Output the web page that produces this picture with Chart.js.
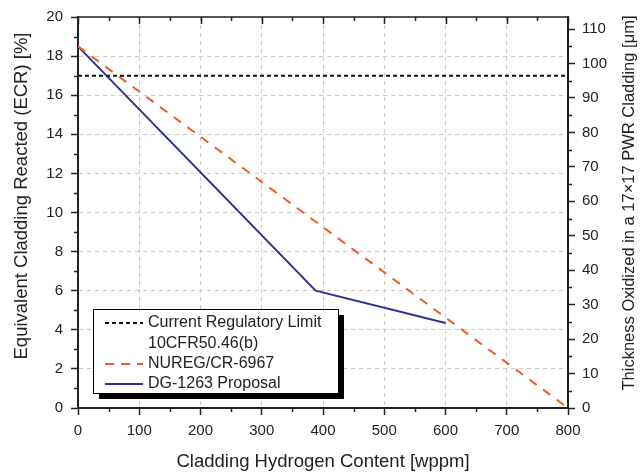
<!DOCTYPE html>
<html>
<head>
<meta charset="utf-8">
<script src="https://cdn.jsdelivr.net/npm/chart.js@4/dist/chart.umd.min.js"></script>
<style>
  html, body { margin: 0; padding: 0; background: #fff; }
  #wrap { width: 641px; height: 473px; }
</style>
</head>
<body>
<div id="wrap"><canvas id="chart" width="641" height="473"></canvas></div>
<script>
// data
const limitH = [0, 800];
const limitEcr = [17, 17];
const nuregH = [0, 800];
const nuregEcr = [18.5, 0];
const dgH = [0, 388, 600];
const dgEcr = [18.5, 6, 4.35];

const xTicks = [0, 100, 200, 300, 400, 500, 600, 700, 800];
const ecrTicks = [0, 2, 4, 6, 8, 10, 12, 14, 16, 18, 20];
const umTicks = [0, 10, 20, 30, 40, 50, 60, 70, 80, 90, 100, 110];
const umMax = 113.5; // right axis top, matches 20 % ECR

const seriesLabels = ['Current Regulatory Limit\n10CFR50.46(b)', 'NUREG/CR-6967', 'DG-1263 Proposal'];
const seriesColors = ['#111111', '#f15a24', '#2e3192'];
const leftTitle = 'Equivalent Cladding Reacted (ECR) [%]';
const rightTitle = 'Thickness Oxidized in a 17\u00d717 PWR Cladding [\u03bcm]';

const FONT = "'Liberation Sans', Arial, Helvetica, sans-serif";
const INK = '#222';

function pts(xs, ys) {
    return xs.map((x, i) => ({ x: x, y: ys[i] }));
}

function vText(ctx, text, x, y) {
    ctx.save();
    ctx.translate(x, y);
    ctx.rotate(-Math.PI / 2);
    ctx.fillText(text, 0, 0);
    ctx.restore();
}

// minor ticks, top frame, y titles and the boxed legend
const extras = {
    id: 'extras',
    afterDraw(chart) {
        const ctx = chart.ctx;
        const a = chart.chartArea;
        const sx = chart.scales.x, sy = chart.scales.y, sr = chart.scales.y1;
        ctx.save();
        ctx.strokeStyle = INK;
        ctx.lineWidth = 1.5;
        ctx.beginPath();
        ctx.moveTo(a.left, a.top);
        ctx.lineTo(a.right, a.top);
        for (let v = 0; v <= 800; v += 50) {
            const px = Math.round(sx.getPixelForValue(v)) + 0.5;
            const major = v % 100 === 0;
            if (!major) {
                ctx.moveTo(px, a.bottom);
                ctx.lineTo(px, a.bottom + 4);
            }
            ctx.moveTo(px, a.top);
            ctx.lineTo(px, a.top + (major ? 7 : 4));
        }
        for (let v = 1; v < 20; v += 2) {
            const py = Math.round(sy.getPixelForValue(v)) + 0.5;
            ctx.moveTo(a.left - 4, py);
            ctx.lineTo(a.left, py);
        }
        for (let v = 5; v < umMax; v += 10) {
            const py = Math.round(sr.getPixelForValue(v)) + 0.5;
            ctx.moveTo(a.right, py);
            ctx.lineTo(a.right + 4, py);
        }
        ctx.stroke();

        ctx.fillStyle = INK;
        ctx.textAlign = 'center';
        ctx.textBaseline = 'middle';
        ctx.font = '18.5px ' + FONT;
        vText(ctx, leftTitle, 22, 196);
        ctx.font = '16.5px ' + FONT;
        vText(ctx, rightTitle, 629, 203);
        ctx.restore();

        // legend box with drop shadow
        const bx = a.left + 15, by = a.bottom - 99, bw = 245, bh = 84;
        ctx.save();
        ctx.fillStyle = '#000';
        ctx.fillRect(bx + 6, by + 6, bw, bh);
        ctx.fillStyle = '#fff';
        ctx.fillRect(bx, by, bw, bh);
        ctx.strokeStyle = '#000';
        ctx.lineWidth = 1;
        ctx.strokeRect(bx + 0.5, by + 0.5, bw, bh);
        ctx.font = '16px ' + FONT;
        ctx.textAlign = 'left';
        ctx.textBaseline = 'middle';
        const rows = [14, 55, 75];
        const dashes = [[4, 3], [9, 7], []];
        chart.data.datasets.forEach((ds, i) => {
            const ry = by + rows[i];
            ctx.strokeStyle = ds.borderColor;
            ctx.lineWidth = 2;
            ctx.setLineDash(dashes[i]);
            ctx.beginPath();
            ctx.moveTo(bx + 12, ry);
            ctx.lineTo(bx + 50, ry);
            ctx.stroke();
            ctx.setLineDash([]);
            ctx.fillStyle = INK;
            ds.label.split('\n').forEach((line, j) => {
                ctx.fillText(line, bx + 55, ry + j * 21);
            });
        });
        ctx.restore();
    }
};

const gridStyle = {
    color: '#c8c8c8',
    lineWidth: 1,
    tickColor: INK,
    tickBorderDash: [],
    tickLength: 7,
    tickWidth: 1.5
};
const borderStyle = { color: INK, width: 2, dash: [4, 4] };
const tickFont = { family: FONT, size: 15 };

new Chart(document.getElementById('chart'), {
    type: 'line',
    data: {
        datasets: [
            {
                label: seriesLabels[0],
                data: pts(limitH, limitEcr),
                borderColor: seriesColors[0],
                borderWidth: 2,
                borderDash: [4, 3],
                pointRadius: 0
            },
            {
                label: seriesLabels[1],
                data: pts(nuregH, nuregEcr),
                borderColor: seriesColors[1],
                borderWidth: 2,
                borderDash: [9, 8],
                pointRadius: 0
            },
            {
                label: seriesLabels[2],
                data: pts(dgH, dgEcr),
                borderColor: seriesColors[2],
                borderWidth: 2,
                pointRadius: 0
            }
        ]
    },
    options: {
        responsive: false,
        animation: false,
        layout: { padding: { top: 14, left: 0, right: 0, bottom: 0 } },
        plugins: {
            legend: { display: false },
            tooltip: { enabled: false }
        },
        scales: {
            x: {
                type: 'linear',
                min: 0,
                max: 800,
                afterBuildTicks: s => { s.ticks = xTicks.map(v => ({ value: v })); },
                afterFit: s => { s.height = 65; },
                grid: gridStyle,
                border: borderStyle,
                ticks: { color: INK, font: tickFont, padding: 7, maxRotation: 0 },
                title: {
                    display: true,
                    text: 'Cladding Hydrogen Content [wppm]',
                    color: INK,
                    font: { family: FONT, size: 18.5 },
                    padding: { top: 0, bottom: 0 }
                }
            },
            y: {
                position: 'left',
                min: 0,
                max: 20,
                afterBuildTicks: s => { s.ticks = ecrTicks.map(v => ({ value: v })); },
                afterFit: s => { s.width = 78; },
                grid: gridStyle,
                border: borderStyle,
                ticks: { color: INK, font: tickFont, padding: 8 }
            },
            y1: {
                position: 'right',
                min: 0,
                max: umMax,
                afterBuildTicks: s => { s.ticks = umTicks.map(v => ({ value: v })); },
                afterFit: s => { s.width = 73; },
                grid: { drawOnChartArea: false, tickColor: INK, tickLength: 7, tickWidth: 1.5 },
                border: { color: INK, width: 2 },
                ticks: { color: INK, font: tickFont, padding: 7 }
            }
        }
    },
    plugins: [extras]
});
</script>
</body>
</html>
